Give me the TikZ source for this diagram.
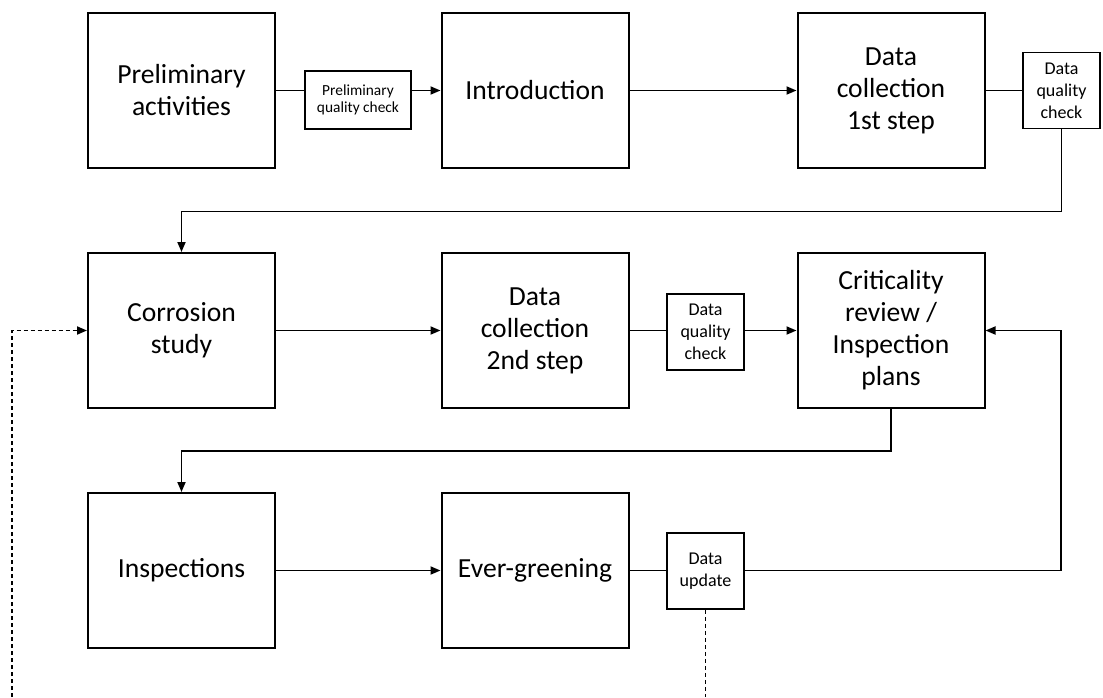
\documentclass[tikz,border=0pt]{standalone}
\usepackage{fontspec}
\setmainfont{Carlito}
\usetikzlibrary{arrows.meta,calc}
\begin{document}
\begin{tikzpicture}[x=1pt,y=-1pt,
  stage/.style={draw,line width=2pt,minimum width=187pt,minimum height=155pt,
    align=center,inner sep=0pt,font=\fontsize{27.6}{32}\selectfont},
  check/.style={draw,line width=1.8pt,minimum width=77pt,minimum height=76pt,
    align=center,inner sep=0pt,font=\fontsize{18}{22}\selectfont},
  smallcheck/.style={draw,line width=1.8pt,minimum width=106pt,minimum height=58pt,
    align=center,inner sep=0pt,font=\fontsize{15.4}{17}\selectfont},
  link/.style={line width=1.8pt},
  flow/.style={link,-{Triangle[length=10pt,width=8pt]}},
  feedback/.style={line width=1.8pt,dash pattern=on 4.5pt off 2.5pt}]
\useasboundingbox (0,0) rectangle (1103,697);

% first row
\node[stage] (prelim) at (181.5,90.5) {Preliminary\\activities};
\node[smallcheck] (pqc) at (358,100) {Preliminary\\quality check};
\node[stage] (intro) at (535,90.5) {Introduction};
\node[stage] (dc1) at (891,90.5) {Data\\collection\\1st step};
\node[check] (dq1) at (1061.5,90.5) {Data\\quality\\check};

% second row
\node[stage] (cor) at (181.5,330.5) {Corrosion\\study};
\node[stage] (dc2) at (535,330.5) {Data\\collection\\2nd step};
\node[check] (dq2) at (705.5,332) {Data\\quality\\check};
\node[stage] (crit) at (891,330.5) {Criticality\\review /\\Inspection\\plans};

% third row
\node[stage] (insp) at (181.5,570.5) {Inspections};
\node[stage] (ever) at (535,570.5) {Ever-greening};
\node[check] (upd) at (705.5,571) {Data\\update};

\coordinate (rback) at (1061,570.5);
\coordinate (lfoot) at (12,697);
\coordinate (ufoot) at (705.5,697);

% main flow
\draw[link] (prelim.east) -- (prelim.east -| pqc.west);
\draw[flow] (prelim.east -| pqc.east) -- (intro.west);
\draw[flow] (intro) -- (dc1);
\draw[link] (dc1) -- (dq1);
\draw[flow] (dq1.south) -- ++(0,82) -| (cor.north);
\draw[flow] (cor) -- (dc2);
\draw[link] (dc2.east) -- (dc2.east -| dq2.west);
\draw[flow] (dc2.east -| dq2.east) -- (crit.east -| crit.west);
\draw[flow] (crit.south) -- ++(0,42) -| (insp.north);
\draw[flow] (insp) -- (ever);
\draw[link] (ever.east) -- (ever.east -| upd.west);
\draw[flow] (ever.east -| upd.east) -- (rback) |- (crit.east);

% feedback loop
\draw[feedback] (upd.south) -- (ufoot);
\draw[feedback,-{Triangle[length=10pt,width=8pt]}] (lfoot) |- (cor.west);
\end{tikzpicture}
\end{document}
